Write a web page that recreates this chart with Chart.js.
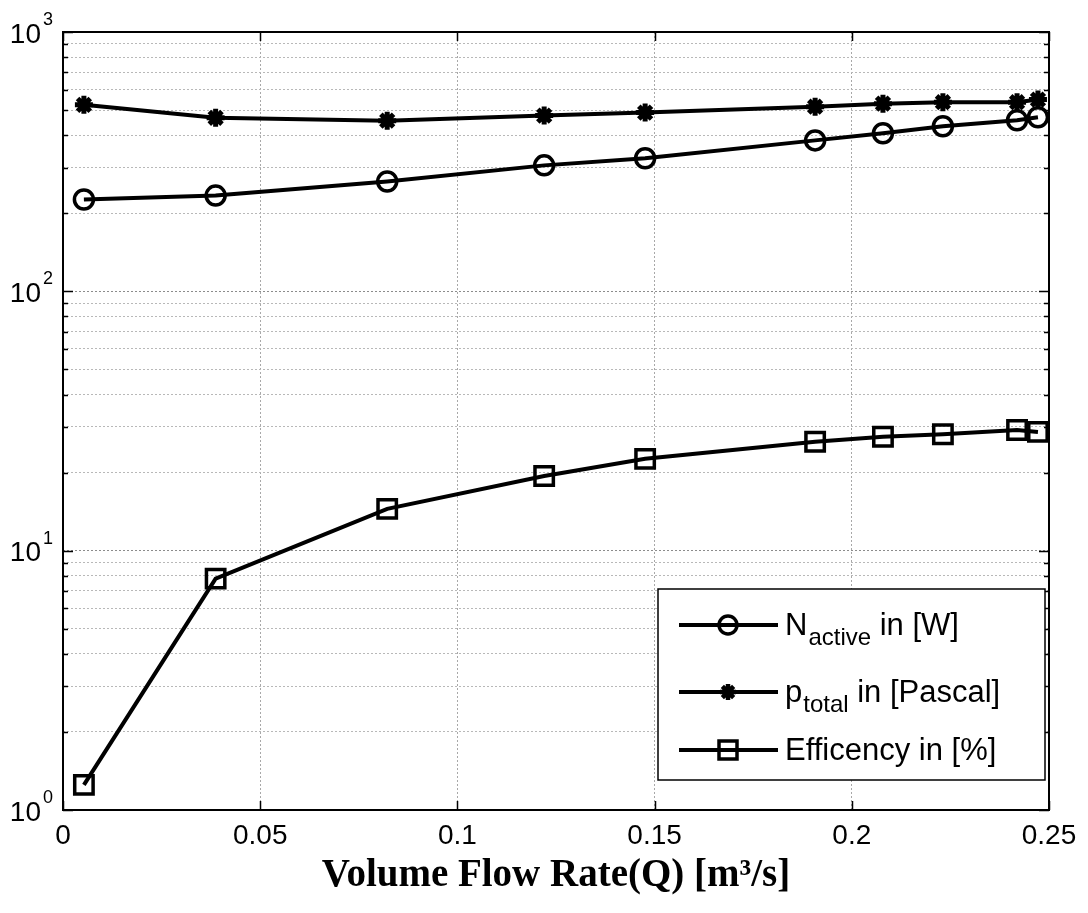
<!DOCTYPE html>
<html>
<head>
<meta charset="utf-8">
<script src="https://cdn.jsdelivr.net/npm/chart.js@4/dist/chart.umd.min.js"></script>
<style>
  html, body { margin: 0; padding: 0; background: #fff; }
</style>
</head>
<body>
<canvas id="myChart" width="1088" height="913"></canvas>
<script>
// values
const flowRate   = [0.0053, 0.0387, 0.0822, 0.122, 0.1476, 0.1907, 0.2079, 0.2231, 0.2419, 0.2472];
const nActive    = [226, 234, 265, 306, 326, 382, 407, 433, 457, 469];
const pTotal     = [524, 467, 455, 476, 489, 515, 529, 536, 536, 549];
const efficiency = [1.25, 7.8, 14.5, 19.4, 22.6, 26.3, 27.5, 28.1, 29.2, 28.7];

const xTicks = [0, 0.05, 0.1, 0.15, 0.2, 0.25];
const yDecades = [1, 10, 100, 1000];
const yTickBase = '10';
const yTickExp = ['0', '1', '2', '3'];

const legendMain = ['N', 'p', 'Efficency in [%]'];
const legendSub  = ['active', 'total', ''];
const legendRest = [' in [W]', ' in [Pascal]', ''];
const legendStyle = ['circle', 'star', 'rect'];

const xTitle = 'Volume Flow Rate(Q) [m³/s]';

const sans = 'Liberation Sans, Arial, sans-serif';

function pairs(ys) {
  return flowRate.map((q, i) => ({x: q, y: ys[i]}));
}

function isDecade(v) {
  return yDecades.indexOf(v) >= 0;
}

function marker(ctx, style, x, y) {
  ctx.save();
  ctx.strokeStyle = '#000';
  ctx.lineWidth = 3.5;
  ctx.beginPath();
  if (style == 'circle') {
    ctx.arc(x, y, 9, 0, Math.PI * 2);
  } else if (style == 'rect') {
    ctx.rect(x - 9, y - 9, 18, 18);
  } else {
    ctx.lineWidth = 4.5;
    const r = 8;
    ctx.moveTo(x - r, y); ctx.lineTo(x + r, y);
    ctx.moveTo(x, y - r); ctx.lineTo(x, y + r);
    const d = r * Math.SQRT1_2;
    ctx.moveTo(x - d, y - d); ctx.lineTo(x + d, y + d);
    ctx.moveTo(x - d, y + d); ctx.lineTo(x + d, y - d);
  }
  ctx.stroke();
  ctx.restore();
}

const matlabBox = {
  id: 'matlabBox',
  beforeDraw(chart) {
    const ctx = chart.ctx;
    ctx.save();
    ctx.fillStyle = '#fff';
    ctx.fillRect(0, 0, chart.width, chart.height);
    ctx.restore();
  },
  afterDraw(chart) {
    const ctx = chart.ctx;
    const a = chart.chartArea;
    const xs = chart.scales.x, ys = chart.scales.y;
    ctx.save();

    // tick marks inside the box
    ctx.strokeStyle = '#000';
    ctx.lineWidth = 1.5;
    ctx.beginPath();
    ys.ticks.forEach(t => {
      const py = Math.round(ys.getPixelForValue(t.value)) + 0.5;
      const len = isDecade(t.value) ? 10 : 5;
      ctx.moveTo(a.left, py); ctx.lineTo(a.left + len, py);
      ctx.moveTo(a.right, py); ctx.lineTo(a.right - len, py);
    });
    xTicks.forEach(v => {
      const px = Math.round(xs.getPixelForValue(v)) + 0.5;
      ctx.moveTo(px, a.bottom); ctx.lineTo(px, a.bottom - 9);
      ctx.moveTo(px, a.top); ctx.lineTo(px, a.top + 9);
    });
    ctx.stroke();

    // box
    ctx.lineWidth = 2;
    ctx.strokeRect(a.left, a.top, a.right - a.left, a.bottom - a.top);

    // y tick labels 10^n
    ctx.fillStyle = '#000';
    yDecades.forEach((d, i) => {
      const py = ys.getPixelForValue(d);
      ctx.font = '28px ' + sans;
      ctx.textAlign = 'right';
      ctx.textBaseline = 'middle';
      ctx.fillText(yTickBase, a.left - 22, py + 3);
      ctx.font = '18px ' + sans;
      ctx.textAlign = 'left';
      ctx.textBaseline = 'alphabetic';
      ctx.fillText(yTickExp[i], a.left - 20, py - 7);
    });

    // legend
    const lw = 387, lh = 191;
    const lx = a.right - 4 - lw, ly = a.bottom - 30 - lh;
    ctx.fillStyle = '#fff';
    ctx.fillRect(lx, ly, lw, lh);
    ctx.lineWidth = 1.5;
    ctx.strokeStyle = '#000';
    ctx.strokeRect(lx, ly, lw, lh);
    const rows = [36, 103, 161];
    legendMain.forEach((m, i) => {
      const ry = ly + rows[i];
      ctx.lineWidth = 4;
      ctx.beginPath();
      ctx.moveTo(lx + 21, ry); ctx.lineTo(lx + 120, ry);
      ctx.stroke();
      marker(ctx, legendStyle[i], lx + 70, ry);
      ctx.fillStyle = '#000';
      ctx.textAlign = 'left';
      ctx.textBaseline = 'alphabetic';
      let tx = lx + 127;
      ctx.font = '31px ' + sans;
      ctx.fillText(m, tx, ry + 10);
      tx += ctx.measureText(m).width;
      if (legendSub[i]) {
        ctx.font = '24px ' + sans;
        ctx.fillText(legendSub[i], tx + 1, ry + 20);
        tx += ctx.measureText(legendSub[i]).width + 1;
        ctx.font = '31px ' + sans;
        ctx.fillText(legendRest[i], tx, ry + 10);
      }
    });
    ctx.restore();
  }
};

const lineStyle = {
  borderColor: '#000',
  borderWidth: 4,
  pointBorderColor: '#000',
  pointBackgroundColor: 'rgba(0,0,0,0)',
  pointBorderWidth: 3.5,
  pointHoverRadius: 9,
  tension: 0
};

const ctx = document.getElementById('myChart').getContext('2d');
const myChart = new Chart(ctx, {
  type: 'line',
  data: {
    datasets: [
      Object.assign({label: 'N active in [W]', data: pairs(nActive), pointStyle: 'circle', pointRadius: 9.5}, lineStyle),
      Object.assign({label: 'p total in [Pascal]', data: pairs(pTotal), pointStyle: 'star', pointRadius: 9}, lineStyle, {pointBorderWidth: 5}),
      Object.assign({label: 'Efficency in [%]', data: pairs(efficiency), pointStyle: 'rect', pointRadius: 13}, lineStyle)
    ]
  },
  plugins: [matlabBox],
  options: {
    responsive: false,
    animation: false,
    devicePixelRatio: 1,
    layout: { padding: { top: 32, right: 39, left: 0, bottom: 0 } },
    plugins: {
      legend: { display: false },
      tooltip: { enabled: false }
    },
    scales: {
      x: {
        type: 'linear',
        min: 0,
        max: 0.25,
        afterBuildTicks: s => { s.ticks = xTicks.map(v => ({value: v})); },
        afterFit: s => { s.height = 103; },
        ticks: {
          color: '#000',
          padding: 9,
          maxRotation: 0,
          font: { family: sans, size: 28 },
          callback: v => String(v)
        },
        grid: {
          drawTicks: false,
          lineWidth: 1,
          color: c => (c.tick && (c.tick.value == 0 || c.tick.value == 0.25)) ? 'rgba(0,0,0,0)' : '#a8a8a8'
        },
        border: { display: false, dash: [2, 2] },
        title: {
          display: true,
          text: xTitle,
          color: '#000',
          padding: { top: 0, bottom: 14 },
          font: { family: 'Liberation Serif, Times New Roman, serif', size: 39, weight: 'bold' }
        }
      },
      y: {
        type: 'logarithmic',
        min: 1,
        max: 1000,
        afterBuildTicks: s => {
          const t = [];
          yDecades.slice(0, -1).forEach(d => {
            for (let k = 1; k <= 9; k++) t.push({value: d * k});
          });
          t.push({value: yDecades[yDecades.length - 1]});
          s.ticks = t;
        },
        afterFit: s => { s.width = 63; },
        ticks: { display: false },
        grid: {
          drawTicks: false,
          lineWidth: 1,
          color: c => {
            const v = c.tick ? c.tick.value : 0;
            if (v == 1 || v == 1000) return 'rgba(0,0,0,0)';
            return isDecade(v) ? '#8c8c8c' : '#b8b8b8';
          }
        },
        border: { display: false, dash: [2, 2] }
      }
    }
  }
});
</script>
</body>
</html>
